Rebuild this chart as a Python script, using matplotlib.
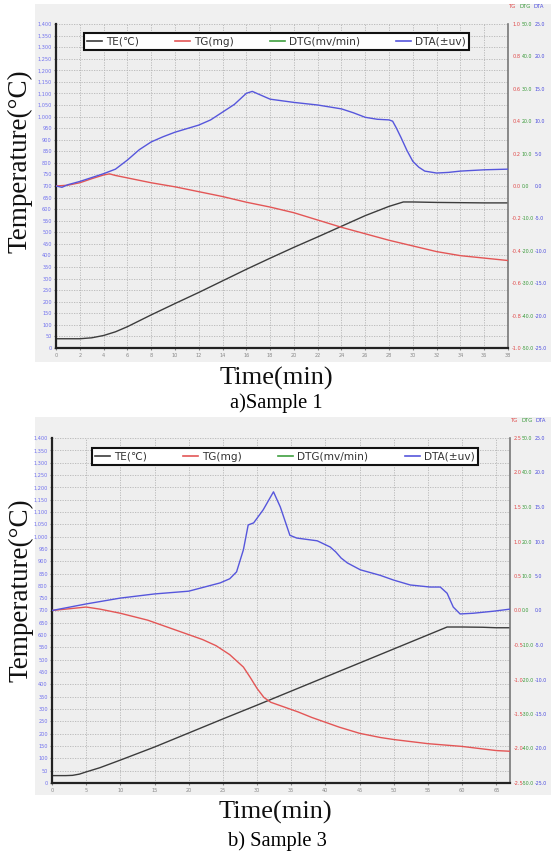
import matplotlib
matplotlib.use("Agg")
from matplotlib import pyplot as plt
from matplotlib.lines import Line2D
from matplotlib.patches import Rectangle
import numpy as np

# ---- Sample 1 ----
s1_te_t = [0, 2, 3, 4, 5, 6, 8, 10, 12, 14, 16, 18, 20, 22, 24, 26, 28, 29.2, 30, 32, 34, 36, 38]
s1_te = [40, 40, 44, 54, 70, 92, 143, 192, 240, 290, 340, 388, 435, 480, 526, 572, 612, 631, 631, 629, 628, 627, 627]

s1_tg_t = [0, 1, 2, 3, 4, 4.5, 5, 6, 8, 10, 12, 14, 16, 18, 20, 22, 24, 26, 28, 30, 32, 34, 36, 38]
s1_tg = [0, 0.005, 0.02, 0.045, 0.068, 0.075, 0.065, 0.05, 0.02, -0.005, -0.035, -0.065, -0.10, -0.13,
         -0.165, -0.21, -0.255, -0.295, -0.335, -0.37, -0.405, -0.43, -0.445, -0.46]

s1_dta_t = [0, 0.5, 1, 2, 3, 4, 5, 6, 7, 8, 9, 10, 12, 13, 14, 15, 16, 16.5, 17, 18, 20, 22, 24, 25, 26, 27, 28,
            28.3, 28.6, 29, 29.5, 30, 30.5, 31, 32, 33, 34, 36, 38]
s1_dta = [0, -0.2, 0.2, 0.7, 1.3, 1.9, 2.6, 4.0, 5.6, 6.8, 7.6, 8.3, 9.4, 10.2, 11.4, 12.6, 14.3, 14.6, 14.2, 13.4,
          12.9, 12.5, 11.9, 11.3, 10.6, 10.3, 10.2, 10.0, 9.0, 7.5, 5.5, 3.8, 2.9, 2.3, 2.0, 2.1, 2.3, 2.5, 2.6]

# ---- Sample 3 ----
s3_te_t = [0, 2, 3, 4, 5, 7, 10, 15, 20, 25, 30, 35, 40, 45, 50, 55, 57.8, 60, 63, 65, 67]
s3_te = [30, 30, 31, 36, 45, 62, 93, 146, 203, 260, 316, 373, 430, 487, 544, 601, 633, 633, 632, 630, 630]

s3_tg_t = [0, 2, 4, 5, 7, 10, 12, 14, 16, 18, 20, 22, 24, 26, 28, 29, 30, 31, 32, 34, 36, 38, 40, 42, 45,
           48, 50, 55, 60, 65, 67]
s3_tg = [0, 0.02, 0.04, 0.05, 0.02, -0.04, -0.09, -0.14, -0.21, -0.28, -0.35, -0.42, -0.51, -0.64, -0.82,
         -0.97, -1.13, -1.26, -1.33, -1.40, -1.47, -1.55, -1.62, -1.69, -1.78, -1.84, -1.87, -1.93, -1.97,
         -2.03, -2.04]

s3_dta_t = [0, 5, 10, 15, 20, 24.6, 26, 27, 28, 28.7, 29.5, 30.9, 32.4, 33.4, 34.8, 35.8, 38.8, 40.7, 41.5,
            42.3, 43.2, 45.1, 48, 50, 52.4, 55.3, 56.8, 57.8, 58.7, 59.7, 61.6, 64.6, 67]
s3_dta = [0, 0.95, 1.8, 2.4, 2.8, 4.0, 4.6, 5.6, 8.8, 12.4, 12.7, 14.6, 17.2, 15.0, 10.9, 10.5, 10.1, 9.2, 8.5,
          7.6, 6.9, 5.9, 5.1, 4.4, 3.7, 3.4, 3.4, 2.5, 0.5, -0.5, -0.4, -0.1, 0.2]

legend_labels = ["TE(\u2103)", "TG(mg)", "DTG(mv/min)", "DTA(\u00b1uv)"]
c_te, c_tg, c_dtg, c_dta = "#3c3c3c", "#e35656", "#3f9f3f", "#5656dc"

W, H = 551, 852
fig = plt.figure(figsize=(W / 100, H / 100), dpi=100)
fig.patch.set_facecolor("white")


def px(x0, y0, x1, y1):
    # pixel box -> figure fraction rect
    return [x0 / W, 1 - y1 / H, (x1 - x0) / W, (y1 - y0) / H]


def panel(box, bg, xmax, xstep, tg_lim, te_t, te, tg_t, tg, dta_t, dta, leg_box, pads, head_y):
    fig.patches.append(Rectangle((bg[0] / W, 1 - bg[3] / H), (bg[2] - bg[0]) / W, (bg[3] - bg[1]) / H,
                                 transform=fig.transFigure, facecolor="#f0f0f0", edgecolor="none",
                                 zorder=-10))
    ax = fig.add_axes(px(*box))
    ax.set_facecolor("#eeeeee")
    ax.set_xlim(0, xmax)
    ax.set_ylim(0, 1400)
    ax.set_xticks(np.arange(0, xmax + 0.01, xstep))
    ax.set_yticks(np.arange(0, 1401, 50))
    ax.set_yticklabels([f"{v:,}" for v in range(0, 1401, 50)])
    ax.tick_params(axis="y", labelsize=3.6, labelcolor="#7070ee", length=1.5, pad=1.5, color="#888888")
    ax.tick_params(axis="x", labelsize=3.6, labelcolor="#888888", length=1.5, pad=2, color="#888888")
    ax.grid(True, color="#b5b5b5", linestyle=(0, (1.5, 1.5)), linewidth=0.6)
    ax.spines["left"].set_linewidth(1.6)
    ax.spines["bottom"].set_linewidth(1.6)
    ax.spines["left"].set_color("#222222")
    ax.spines["bottom"].set_color("#222222")
    ax.spines["top"].set_visible(False)
    ax.spines["right"].set_color("#777777")
    ax.spines["right"].set_linewidth(1.2)
    ax.plot(te_t, te, color=c_te, lw=1.0)

    # right side scales: TG, DTG, DTA
    ax_tg = ax.twinx()
    ax_tg.set_ylim(-tg_lim, tg_lim)
    tg_ticks = np.linspace(tg_lim, -tg_lim, 11)
    ax_tg.set_yticks(tg_ticks)
    ax_tg.set_yticklabels([f"{v:.1f}".replace("-0.0", "0.0") for v in tg_ticks])
    ax_tg.tick_params(axis="y", labelsize=3.6, labelcolor="#e04848", length=0, pad=pads[0])
    ax_tg.plot(tg_t, tg, color=c_tg, lw=1.0)

    ax_dtg = ax.twinx()
    ax_dtg.set_ylim(-50, 50)
    dtg_ticks = np.linspace(50, -50, 11)
    ax_dtg.set_yticks(dtg_ticks)
    ax_dtg.set_yticklabels([f"{v:.1f}".replace("-0.0", "0.0") for v in dtg_ticks])
    ax_dtg.tick_params(axis="y", labelsize=3.4, labelcolor="#3a9a3a", length=0, pad=pads[1])

    ax_dta = ax.twinx()
    ax_dta.set_ylim(-25, 25)
    dta_ticks = np.linspace(25, -25, 11)
    ax_dta.set_yticks(dta_ticks)
    ax_dta.set_yticklabels([f"{v:.1f}".replace("-0.0", "0.0") for v in dta_ticks])
    ax_dta.tick_params(axis="y", labelsize=3.4, labelcolor="#4a4ade", length=0, pad=pads[2])
    ax_dta.plot(dta_t, dta, color=c_dta, lw=1.0)
    for a in (ax_tg, ax_dtg, ax_dta):
        for s in a.spines.values():
            s.set_visible(False)

    handles = [Line2D([], [], color=c, lw=1.2) for c in (c_te, c_tg, c_dtg, c_dta)]
    leg = ax_dta.legend(handles, legend_labels, loc="lower left", bbox_to_anchor=leg_box, mode="expand",
                        ncol=4, fontsize=7.6, frameon=True, fancybox=False, handlelength=1.4,
                        handletextpad=0.4, columnspacing=0.8, borderpad=0.3, labelcolor="#333333")
    leg.get_frame().set_edgecolor("#111111")
    leg.get_frame().set_linewidth(1.5)
    leg.get_frame().set_facecolor("white")
    leg.get_frame().set_alpha(1)

    # column headings above the right scales
    hx = box[2] / W
    for dx, txt, col in [(1, "TG", "#e04848"), (12, "DTG", "#3a9a3a"), (26, "DTA", "#4a4ade")]:
        fig.text(hx + dx / W, 1 - head_y / H, txt, fontsize=3.8, color=col, va="center", ha="left")
    return ax


panel((56, 24, 508, 348), (35, 4, 551, 362), 38, 2, 1.0,
      s1_te_t, s1_te, s1_tg_t, s1_tg, s1_dta_t, s1_dta,
      (0.051, 0.904, 0.874, 0.071), (3, 10, 19), 6)
panel((52, 438, 510, 783), (35, 417, 551, 795), 67, 5, 2.5,
      s3_te_t, s3_te, s3_tg_t, s3_tg, s3_dta_t, s3_dta,
      (0.076, 0.907, 0.865, 0.073), (2.5, 8.5, 17.5), 421)

serif = ["Liberation Serif", "DejaVu Serif"]
fig.text(20 / W, 1 - 161 / H, "Temperature(\u00b0C)", rotation=90, fontsize=19.5, family=serif,
         ha="center", va="center", color="#111111")
fig.text(21 / W, 1 - 590 / H, "Temperature(\u00b0C)", rotation=90, fontsize=19.5, family=serif,
         ha="center", va="center", color="#111111")
fig.text(276 / W, 1 - 378 / H, "Time(min)", fontsize=19, family=serif, ha="center", va="center",
         color="#111111")
fig.text(276 / W, 1 - 403 / H, "a)Sample 1", fontsize=14.8, family=serif, ha="center", va="center")
fig.text(275 / W, 1 - 812 / H, "Time(min)", fontsize=19, family=serif, ha="center", va="center",
         color="#111111")
fig.text(277 / W, 1 - 841 / H, "b) Sample 3", fontsize=14.8, family=serif, ha="center", va="center")

fig.savefig("out.png", dpi=100)
